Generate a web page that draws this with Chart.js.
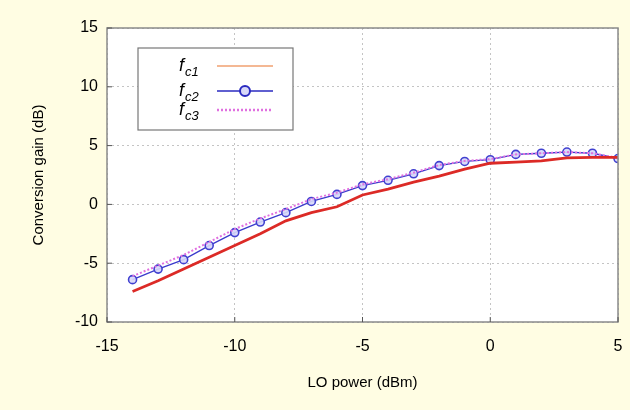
<!DOCTYPE html>
<html><head><meta charset="utf-8">
<script src="https://cdn.jsdelivr.net/npm/chart.js@4"></script>
<style>html,body{margin:0;padding:0;background:#fffde3;}#c{display:block;}</style>
</head><body>
<canvas id="c" width="630" height="410"></canvas>
<script>
const loPower = [-14,-13,-12,-11,-10,-9,-8,-7,-6,-5,-4,-3,-2,-1,0,1,2,3,4,5];
const fc1 = [-7.4,-6.5,-5.5,-4.5,-3.5,-2.5,-1.4,-0.7,-0.2,0.8,1.3,1.9,2.4,3.0,3.5,3.6,3.7,3.95,4.0,4.0];
const fc2 = [-6.4,-5.5,-4.7,-3.5,-2.4,-1.5,-0.7,0.25,0.85,1.6,2.05,2.6,3.3,3.65,3.8,4.25,4.35,4.45,4.35,3.9];
const fc3 = [-6.1,-5.2,-4.3,-3.2,-2.1,-1.2,-0.4,0.45,1.0,1.7,2.15,2.7,3.35,3.7,3.85,4.25,4.35,4.45,4.35,3.95];
const xTicks = [-15,-10,-5,0,5];
const yTicks = [-10,-5,0,5,10,15];
const seriesNames = ['c1','c2','c3'];

const pts = ys => loPower.map((x,i)=>({x:x,y:ys[i]}));
const FONT = '"Liberation Sans", Arial, sans-serif';

const frame = {
  id:'frame',
  beforeDraw(chart){
    const {ctx, chartArea:a} = chart;
    ctx.save();
    ctx.fillStyle = '#ffffff';
    ctx.fillRect(a.left, a.top, a.right-a.left, a.bottom-a.top);
    ctx.restore();
  },
  afterDatasetsDraw(chart){
    const {ctx, chartArea:a, scales} = chart;
    ctx.save();
    ctx.strokeStyle = '#8a8a8a';
    ctx.lineWidth = 1.5;
    ctx.strokeRect(a.left, a.top, a.right-a.left, a.bottom-a.top);
    ctx.strokeStyle = '#555';
    ctx.lineWidth = 1;
    xTicks.forEach(v=>{const px=scales.x.getPixelForValue(v);ctx.beginPath();ctx.moveTo(px,a.bottom);ctx.lineTo(px,a.bottom-5);ctx.stroke();});
    yTicks.forEach(v=>{const py=scales.y.getPixelForValue(v);ctx.beginPath();ctx.moveTo(a.left,py);ctx.lineTo(a.left+5,py);ctx.stroke();});
    // legend
    const bx=138, by=48, bw=155, bh=82;
    ctx.fillStyle='#ffffff';
    ctx.fillRect(bx,by,bw,bh);
    ctx.strokeStyle='#777';
    ctx.lineWidth=1.2;
    ctx.strokeRect(bx,by,bw,bh);
    const rows=[66,91,110];
    ctx.fillStyle='#000';
    ctx.textBaseline='alphabetic';
    rows.forEach((ry,i)=>{
      ctx.font='italic 18px '+FONT;
      ctx.fillText('f',179,ry+5);
      ctx.font='italic 13px '+FONT;
      ctx.fillText(seriesNames[i],185,ry+10);
    });
    ctx.lineWidth=1.5;
    ctx.strokeStyle='#f0a070';
    ctx.beginPath();ctx.moveTo(217,rows[0]);ctx.lineTo(273,rows[0]);ctx.stroke();
    ctx.strokeStyle='#2a2ac0';
    ctx.beginPath();ctx.moveTo(217,rows[1]);ctx.lineTo(273,rows[1]);ctx.stroke();
    ctx.lineWidth=2;
    ctx.fillStyle='#d8d8f8';
    ctx.beginPath();ctx.arc(245,rows[1],5,0,Math.PI*2);ctx.fill();ctx.stroke();
    ctx.strokeStyle='#e070e0';
    ctx.lineWidth=2.5;
    ctx.setLineDash([2,2]);
    ctx.beginPath();ctx.moveTo(217,rows[2]);ctx.lineTo(273,rows[2]);ctx.stroke();
    ctx.setLineDash([]);
    ctx.restore();
  }
};

new Chart(document.getElementById('c'), {
  type:'scatter',
  data:{datasets:[
    {label:'fc1', data:pts(fc1), showLine:true, borderColor:'#dc2a26', borderWidth:2.8, pointRadius:0, tension:0},
    {label:'fc3', data:pts(fc3), showLine:true, borderColor:'#e070e0', borderWidth:2, borderDash:[2,2], pointRadius:0, tension:0},
    {label:'fc2', data:pts(fc2), showLine:true, borderColor:'#3a3acc', borderWidth:1.3, pointRadius:4, pointBorderWidth:1.6, pointBorderColor:'#4040d0', pointBackgroundColor:'rgba(215,215,248,0.9)', tension:0}
  ]},
  options:{
    responsive:false, animation:false,
    layout:{padding:{left:30,right:12,top:28,bottom:18}},
    plugins:{legend:{display:false}, tooltip:{enabled:false}},
    scales:{
      x:{type:'linear', min:-15, max:5,
        afterBuildTicks(s){s.ticks=xTicks.map(v=>({value:v}));},
        afterFit(s){s.height=410-18-322; s.paddingRight=0; s.paddingLeft=0;},
        grid:{color:'#c4c4c4', lineWidth:1, drawTicks:false, tickLength:0},
        border:{display:false, dash:[2,3]},
        ticks:{color:'#000', padding:15, font:{family:FONT, size:16}},
        title:{display:true, text:'LO power (dBm)', color:'#000', padding:{top:0,bottom:0}, font:{family:FONT, size:15}}
      },
      y:{type:'linear', min:-10, max:15,
        afterBuildTicks(s){s.ticks=yTicks.map(v=>({value:v}));},
        afterFit(s){s.width=107-30; s.paddingTop=0; s.paddingBottom=0;},
        grid:{color:'#c4c4c4', lineWidth:1, drawTicks:false, tickLength:0},
        border:{display:false, dash:[2,3]},
        ticks:{color:'#000', padding:9, font:{family:FONT, size:16}},
        title:{display:true, text:'Conversion gain (dB)', color:'#000', padding:{top:0,bottom:0}, font:{family:FONT, size:15}}
      }
    }
  },
  plugins:[frame]
});
</script>
</body></html>
